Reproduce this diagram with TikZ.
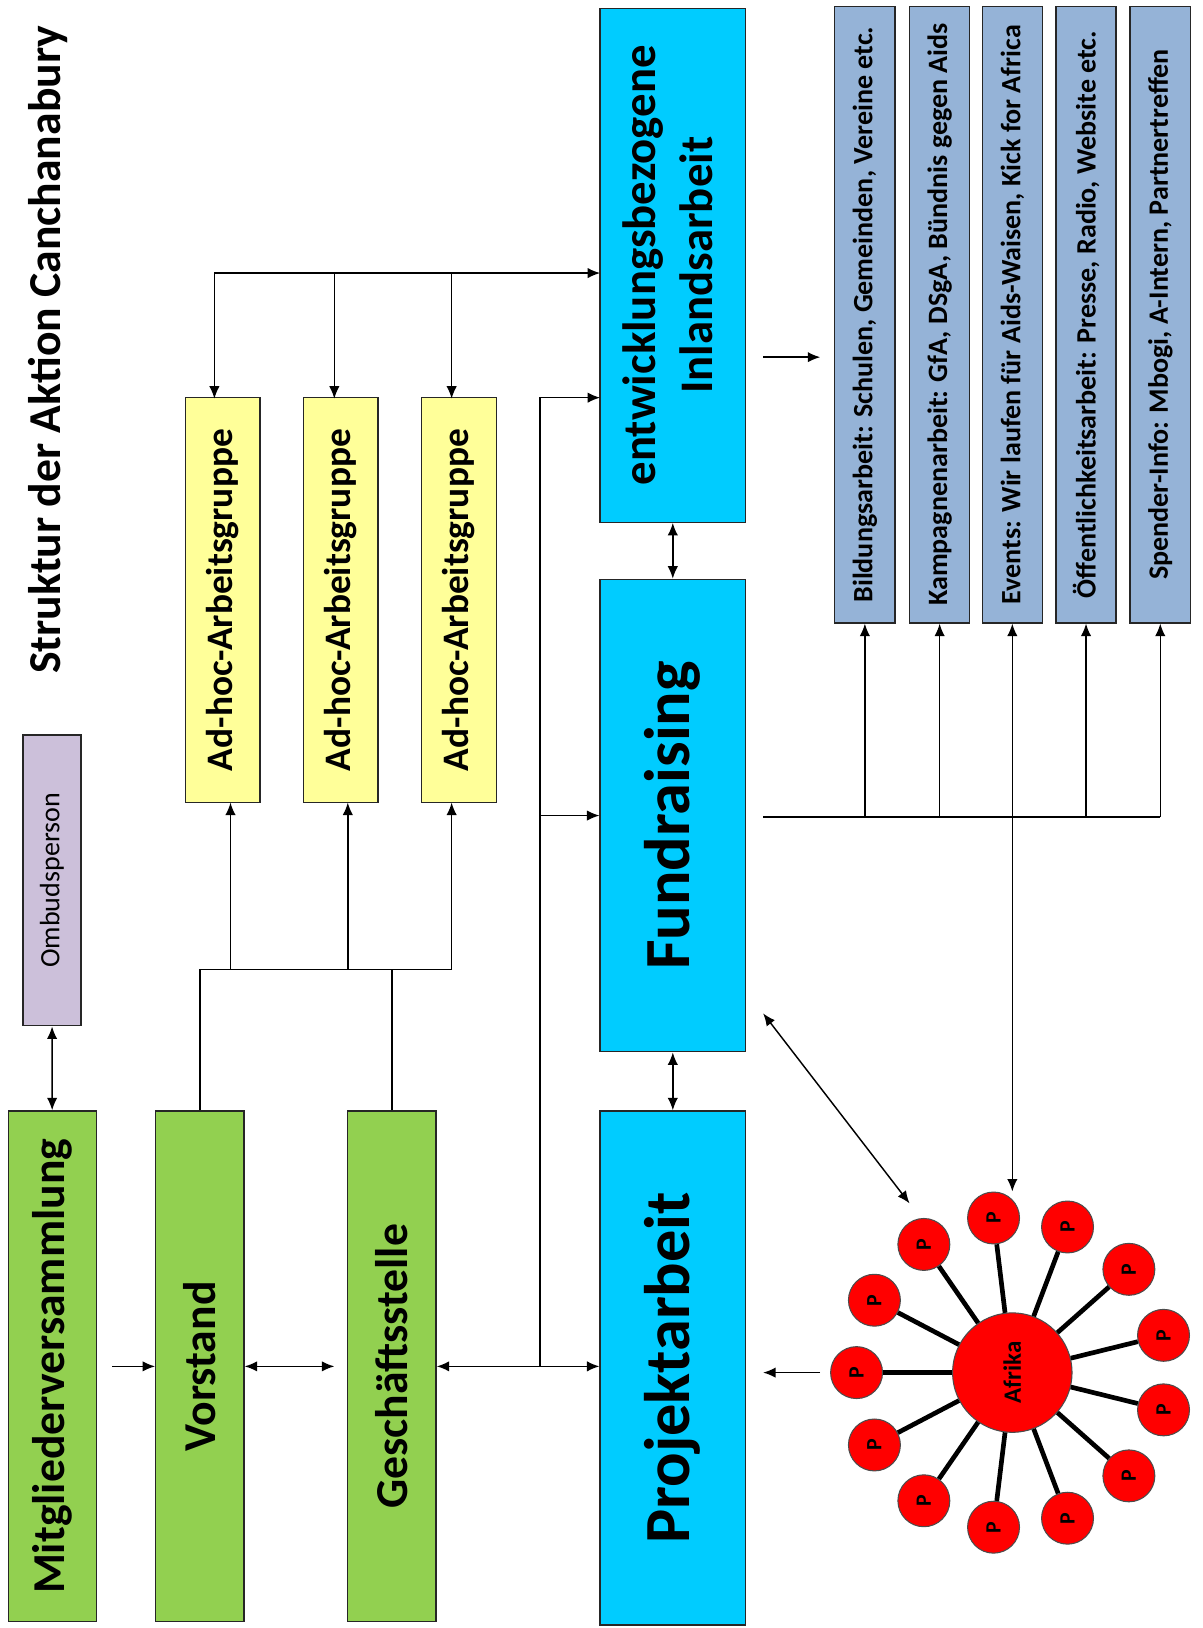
\documentclass[tikz,border=0pt]{standalone}
\usepackage{fontspec}
\setmainfont{Carlito}
\usetikzlibrary{arrows.meta,positioning,calc}

\definecolor{gruen}{RGB}{146,208,80}
\definecolor{tuerkis}{RGB}{0,204,255}
\definecolor{gelb}{RGB}{255,255,153}
\definecolor{lila}{RGB}{204,192,218}
\definecolor{blaugrau}{RGB}{149,179,215}
\definecolor{rot}{RGB}{255,0,0}

\newcommand{\hoch}[1]{\rotatebox{90}{#1}}

\tikzset{box/.style={rectangle,draw=black!85,line width=1.3pt,inner sep=0pt,font=\bfseries},
         main box/.style={box,fill=gruen,minimum width=85pt,minimum height=492pt,font=\bfseries\fontsize{44}{48}\selectfont},
         work box/.style={box,fill=tuerkis,minimum width=140pt},
         group box/.style={box,fill=gelb,minimum width=72pt,minimum height=390pt,font=\bfseries\fontsize{36}{40}\selectfont},
         info box/.style={box,fill=blaugrau,minimum width=58pt,minimum height=594pt,font=\bfseries\fontsize{27}{30}\selectfont},
         partner/.style={circle,fill=rot,draw=black!70,line width=1pt,minimum size=50pt,inner sep=0pt,font=\bfseries\fontsize{21}{23}\selectfont},
         link/.style={line width=1.4pt},
         spoke/.style={line width=4.5pt},
}

\begin{document}
\begin{tikzpicture}[x=1pt,y=-1pt,>={Latex[length=12pt,width=10pt]}]
\useasboundingbox (0,0) rectangle (1158,1568);

% title and left column
\node[font=\bfseries\fontsize{44}{48}\selectfont] (titel) at (46,337) {\hoch{Struktur der Aktion Canchanabury}};
\node[box,fill=lila,minimum width=56pt,minimum height=280pt,font=\fontsize{27}{30}\selectfont] (ombuds) at (50,848) {\hoch{Ombudsperson}};
\node[main box] (mitglieder) at (50.5,1316) {\hoch{Mitgliederversammlung}};
\node[main box] (vorstand) at (192.5,1316) {\hoch{Vorstand}};
\node[main box] (gs) at (377.5,1316) {\hoch{Geschäftsstelle}};

% ad-hoc groups
\node[group box] (ag1) at (214.5,578) {\hoch{Ad-hoc-Arbeitsgruppe}};
\node[group box] (ag2) at (328,578) {\hoch{Ad-hoc-Arbeitsgruppe}};
\node[group box] (ag3) at (442,578) {\hoch{Ad-hoc-Arbeitsgruppe}};

% work areas
\node[work box,minimum height=495pt,font=\bfseries\fontsize{45}{54}\selectfont] (inland) at (648,255.5)
    {\hoch{\begin{tabular}{@{}c@{}}entwicklungsbezogene\\Inlandsarbeit\end{tabular}}};
\node[work box,minimum height=455pt,font=\bfseries\fontsize{62}{66}\selectfont] (fund) at (648,785.5) {\hoch{Fundraising}};
\node[work box,minimum height=495pt,font=\bfseries\fontsize{62}{66}\selectfont] (projekt) at (648,1317.5) {\hoch{Projektarbeit}};

% info boxes
\node[info box] (info1) at (833,303) {\hoch{Bildungsarbeit: Schulen, Gemeinden, Vereine etc.}};
\node[info box] (info2) at (905,303) {\hoch{Kampagnenarbeit: GfA, DSgA, Bündnis gegen Aids}};
\node[info box] (info3) at (975,303) {\hoch{Events: Wir laufen für Aids-Waisen, Kick for Africa}};
\node[info box] (info4) at (1046,303) {\hoch{Öffentlichkeitsarbeit: Presse, Radio, Website etc.}};
\node[info box] (info5) at (1117.5,303) {\hoch{Spender-Info: Mbogi, A-Intern, Partnertreffen}};

% Afrika
\node[partner,minimum size=115pt,font=\bfseries\fontsize{24}{26}\selectfont] (afrika) at (975,1322) {\hoch{Afrika}};
\foreach \i in {1,...,13}
  \node[partner] (p\i) at ($(afrika)+({180+(\i-1)*360/13}:150)$) {\hoch{P}};
\foreach \i in {1,...,13}
  \draw[spoke] (afrika) -- (p\i);

% connectors
\coordinate (split) at (520,1316);
\coordinate (inlin) at (578,383);
\coordinate (topin) at (578,263);
\coordinate (hub) at (435,934);
\coordinate (inlout) at (735,344);
\coordinate (inlend) at (790,344);
\coordinate (fundout) at (735,787);
\coordinate (diaga) at (735,976);
\coordinate (diagb) at (876,1159);
\coordinate (afrout) at (790,1322);
\coordinate (projin) at (735,1322);

\draw[link,<->] (ombuds) -- (mitglieder);
\draw[link,->] (108,1316) -- (vorstand.west);
\draw[link,<->] (vorstand.east) -- (322,1316);
\draw[link,<->] (gs.east) -- (gs.east -| projekt.west);
\draw[link,->] (split) |- (inlin);
\draw[link,->] (split |- fund.west) -- (fund.west);

\draw[link,<->] (206.5,384) |- (topin);
\draw[link,->] (322,263) -- (322,384);
\draw[link,->] (435,263) -- (435,384);

\draw[link] (vorstand.north) |- (hub);
\draw[link] (gs.north) -- (gs.north |- hub);
\draw[link,->] (222,934) -- (222,773);
\draw[link,->] (335,934) -- (335,773);
\draw[link,->] (hub) -- (435,773);

\draw[link,<->] (inland) -- (fund);
\draw[link,<->] (fund) -- (projekt);
\draw[link,->] (inlout) -- (inlend);

\draw[link] (fundout) -- (info5.south |- fundout);
\foreach \n in {1,2,4,5}
  \draw[link,->] (info\n.south |- fundout) -- (info\n.south);
\draw[link,<->] (info3.south) -- (info3.south |- p4.north);
\draw[link,<->] (diaga) -- (diagb);
\draw[link,->] (afrout) -- (projin);
\end{tikzpicture}
\end{document}
